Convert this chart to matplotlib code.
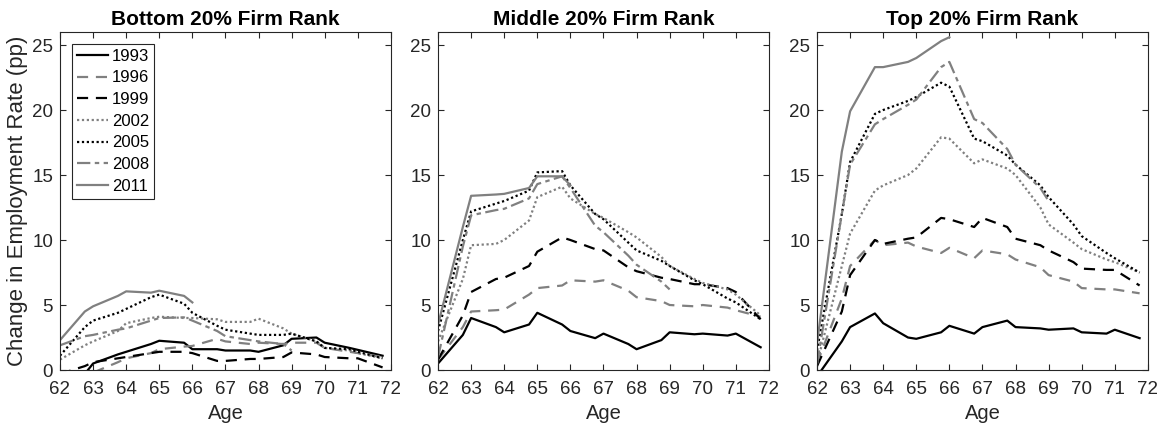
import matplotlib
matplotlib.use("Agg")
import matplotlib.pyplot as plt

plt.rcParams['font.family'] = ['Liberation Sans', 'DejaVu Sans']

ages = [62, 62.75, 63, 63.75, 64, 64.75, 65, 65.75, 66, 66.75,
        67, 67.75, 68, 68.75, 69, 69.75, 70, 70.75, 71, 71.75]
years = ['1993', '1996', '1999', '2002', '2005', '2008', '2011']
titles = ['Bottom 20% Firm Rank', 'Middle 20% Firm Rank', 'Top 20% Firm Rank']

# bottom 20% firm rank
bottom = {
    '1993': [-2.0, -0.3, 0.5, 1.2, 1.4, 2.0, 2.25, 2.1, 1.6, 1.6, 1.5, 1.5, 1.4, 1.9, 2.4, 2.5, 2.1, 1.7, 1.55, 1.1],
    '1996': [-1.5, -0.5, -0.2, 0.6, 0.9, 1.3, 1.6, 1.8, 1.85, 2.4, 2.2, 2.0, 2.1, 2.0, 2.1, 2.1, 1.7, 1.4, 1.3, 1.0],
    '1999': [-0.3, 0.3, 0.6, 0.9, 1.0, 1.3, 1.4, 1.4, 1.3, 0.7, 0.7, 0.85, 0.85, 1.0, 1.35, 1.2, 1.0, 0.9, 0.9, 0.2],
    '2002': [0.8, 1.9, 2.2, 3.0, 3.6, 4.0, 4.1, 4.0, 4.0, 3.9, 3.7, 3.7, 3.95, 3.2, 2.8, 2.2, 1.7, 1.5, 1.3, 0.9],
    '2005': [1.1, 3.3, 3.8, 4.4, 4.7, 5.6, 5.8, 5.1, 4.4, 3.4, 3.1, 2.8, 2.7, 2.7, 2.8, 2.2, 1.7, 1.6, 1.4, 0.9],
    '2008': [1.9, 2.6, 2.7, 3.1, 3.2, 3.8, 4.0, 4.05, 3.8, 3.0, 2.6, 2.3, 2.2, 2.0, 1.5],
    '2011': [2.3, 4.5, 4.9, 5.7, 6.05, 5.95, 6.1, 5.7, 5.2],
}

# middle 20% firm rank
middle = {
    '1993': [0.5, 2.7, 4.0, 3.3, 2.9, 3.5, 4.4, 3.5, 3.0, 2.45, 2.8, 2.0, 1.6, 2.3, 2.9, 2.75, 2.8, 2.65, 2.8, 1.75],
    '1996': [0.8, 3.3, 4.5, 4.6, 4.65, 5.8, 6.3, 6.5, 6.9, 6.8, 6.9, 6.1, 5.6, 5.3, 5.0, 4.9, 5.0, 4.8, 4.6, 4.1],
    '1999': [0.8, 4.2, 6.0, 7.0, 7.1, 8.0, 9.1, 10.2, 10.0, 9.3, 9.2, 7.9, 7.6, 7.1, 7.0, 6.6, 6.6, 6.3, 6.0, 3.9],
    '2002': [2.2, 7.0, 9.6, 9.7, 10.0, 11.5, 13.3, 14.1, 13.2, 12.0, 11.7, 10.6, 10.2, 8.7, 8.0, 7.0, 6.7, 6.2, 5.8, 4.2],
    '2005': [3.0, 10.0, 12.2, 12.8, 13.0, 13.8, 15.2, 15.3, 14.2, 12.0, 11.6, 9.8, 9.2, 8.4, 8.0, 6.9, 6.6, 5.5, 5.2, 3.9],
    '2008': [1.0, 9.5, 11.9, 12.3, 12.4, 13.2, 14.3, 14.9, 14.0, 11.1, 10.6, 8.8, 8.1, 6.8, 6.2],
    '2011': [3.5, 11.0, 13.4, 13.5, 13.55, 14.0, 14.9, 14.9, 14.2],
}

# top 20% firm rank
top = {
    '1993': [-0.5, 2.2, 3.3, 4.35, 3.6, 2.5, 2.4, 2.9, 3.4, 2.8, 3.3, 3.8, 3.3, 3.2, 3.1, 3.2, 2.9, 2.8, 3.1, 2.45],
    '1996': [0.5, 5.5, 8.0, 10.0, 9.6, 9.8, 9.5, 9.0, 9.4, 8.6, 9.2, 8.9, 8.5, 7.9, 7.3, 6.8, 6.3, 6.2, 6.2, 5.9],
    '1999': [0.3, 4.5, 7.3, 10.0, 9.7, 10.1, 10.2, 11.7, 11.6, 11.0, 11.7, 11.0, 10.1, 9.6, 9.2, 8.3, 7.8, 7.7, 7.7, 6.5],
    '2002': [0.5, 8.0, 10.5, 13.8, 14.2, 15.0, 15.5, 17.9, 17.8, 15.9, 16.2, 15.5, 15.0, 12.5, 11.2, 9.8, 9.3, 8.5, 8.3, 7.5],
    '2005': [1.5, 12.0, 16.0, 19.7, 20.0, 20.7, 21.0, 22.1, 21.8, 17.8, 17.6, 16.5, 15.8, 14.2, 13.3, 11.2, 10.3, 9.0, 8.6, 7.5],
    '2008': [0.5, 12.0, 15.8, 18.9, 19.3, 20.4, 20.8, 23.3, 23.7, 19.3, 19.0, 17.0, 15.8, 14.0, 13.0],
    '2011': [2.0, 16.8, 19.9, 23.3, 23.3, 23.7, 24.0, 25.3, 25.6],
}

gray = (0.5, 0.5, 0.5)
styles = {
    '1993': dict(color='black', ls='-'),
    '1996': dict(color=gray, ls=(0, (5, 3.5))),
    '1999': dict(color='black', ls=(0, (5, 3.5))),
    '2002': dict(color=gray, ls=(0, (1, 1.2))),
    '2005': dict(color='black', ls=(0, (1, 1.2))),
    '2008': dict(color=gray, ls=(0, (6, 2, 2, 2))),
    '2011': dict(color=gray, ls='-'),
}

fig = plt.figure(figsize=(11.65, 4.32), dpi=100)
lefts = [0.0515, 0.376, 0.7013]
axc = '0.15'
for k, data in enumerate([bottom, middle, top]):
    ax = fig.add_axes([lefts[k], 0.1435, 0.284, 0.7824])
    for y in years:
        vals = data[y]
        ax.plot(ages[:len(vals)], vals, lw=1.6, label=y, **styles[y])
    ax.set_xlim(62, 72)
    ax.set_ylim(0, 26)
    ax.set_xticks(range(62, 73))
    ax.set_yticks([0, 5, 10, 15, 20, 25])
    ax.tick_params(direction='in', top=True, right=True, labelsize=13.5,
                   colors=axc, length=4, width=0.8)
    ax.tick_params(axis='x', pad=8)
    ax.tick_params(axis='y', pad=5)
    for s in ax.spines.values():
        s.set_color(axc)
        s.set_linewidth(0.8)
    ax.set_title(titles[k], fontsize=15, fontweight='bold', pad=5)
    ax.set_xlabel('Age', fontsize=14.5, color=axc, labelpad=4)
    if k == 0:
        ax.set_ylabel('Change in Employment Rate (pp)', fontsize=16, color=axc, labelpad=3)
        leg = ax.legend(loc='upper left', fontsize=12, handlelength=1.9, handletextpad=0.2,
                        labelspacing=0.4, borderpad=0.3, fancybox=False,
                        edgecolor='0.15', framealpha=1, borderaxespad=0.7)
        leg.get_frame().set_linewidth(0.8)

fig.savefig('out.png', dpi=100)
